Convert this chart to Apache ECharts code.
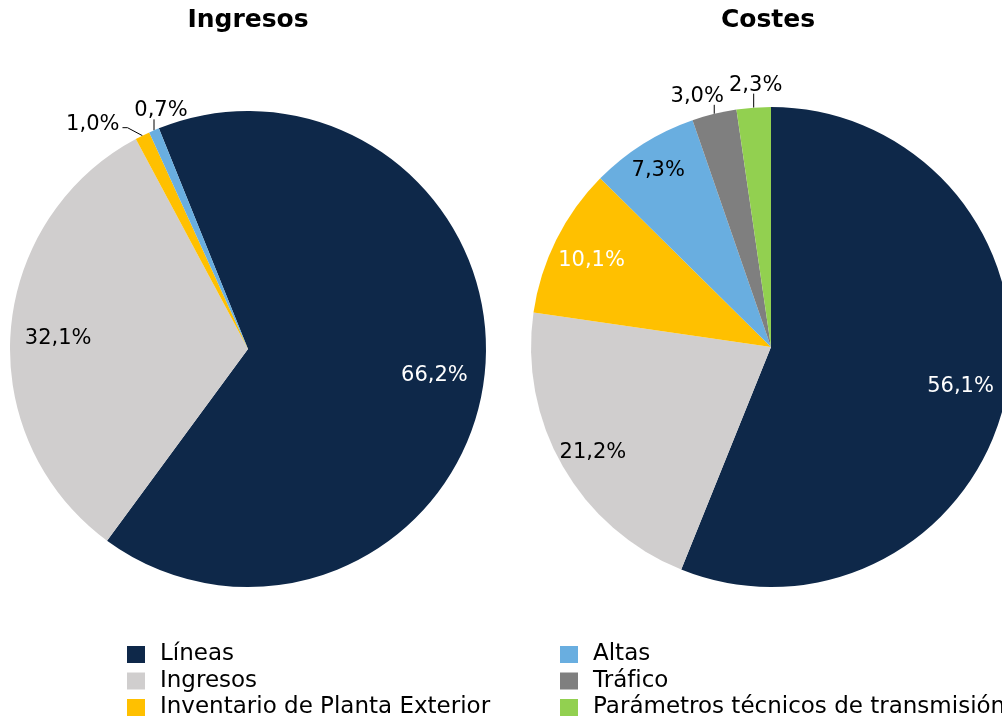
<!DOCTYPE html>
<html lang="es">
<head>
<meta charset="UTF-8">
<title>Ingresos y Costes</title>
<script src="https://cdn.jsdelivr.net/npm/echarts@6/dist/echarts.min.js"></script>
<style>
    * { margin: 0; padding: 0; }
    body { background: #fff; }
</style>
</head>
<body>
<div id="chart" style="width:1002px;height:720px;"></div>
<script>
    // categorias compartidas por los dos graficos
    var categorias = ['Líneas', 'Ingresos', 'Inventario de Planta Exterior', 'Altas', 'Tráfico', 'Parámetros técnicos de transmisión'];
    var colores = ['#0E2849', '#D0CECE', '#FFC000', '#69AEE0', '#7F7F7F', '#92D050'];
    var coloresTexto = ['#fff', '#000', '#fff', '#000', '#000', '#000'];

    var ingresosNombres = ['Líneas', 'Ingresos', 'Inventario de Planta Exterior', 'Altas'];
    var ingresosValores = [66.2, 32.1, 1.0, 0.7];

    var costesNombres = ['Líneas', 'Ingresos', 'Inventario de Planta Exterior', 'Altas', 'Tráfico', 'Parámetros técnicos de transmisión'];
    var costesValores = [56.1, 21.2, 10.1, 7.3, 3.0, 2.3];

    var fuente = 'DejaVu Sans';

    // rotulos que van fuera del sector, con su linea
    var rotulosExternos = {
        ingresos: {
            'Inventario de Planta Exterior': {tipo: 'codo', dx: -15, dy: -8, largo: 5},
            'Altas': {tipo: 'vertical', alto: 11, dx: 7}
        },
        costes: {
            'Tráfico': {tipo: 'vertical', alto: 9, dx: -17},
            'Parámetros técnicos de transmisión': {tipo: 'vertical', alto: 14, dx: 2}
        }
    };
    // distancia del rotulo interior al centro, como fraccion del radio
    var distanciaRotulo = {
        ingresos: {'Líneas': 0.77, 'Ingresos': 0.78},
        costes: {'Líneas': 0.785, 'Ingresos': 0.835, 'Inventario de Planta Exterior': 0.815, 'Altas': 0.86}
    };

    function pct(p) {
        return p.value.toFixed(1).replace('.', ',') + '%';
    }

    function datosSectores(nombres, valores, externos) {
        return nombres.map(function (n, i) {
            var item = {name: n, value: valores[i], itemStyle: {color: colores[categorias.indexOf(n)]}};
            if (externos[n]) {
                item.label = {show: true};
                item.labelLine = {show: true};
            }
            return item;
        });
    }

    function datosRotulos(nombres, valores, externos) {
        return nombres.map(function (n, i) {
            return {
                name: n, value: valores[i],
                itemStyle: {color: 'rgba(0,0,0,0)'},
                label: {show: !externos[n], color: coloresTexto[categorias.indexOf(n)]}
            };
        });
    }

    function hacerLayout(nombres, externos) {
        return function (p) {
            var r = externos[nombres[p.dataIndex]];
            if (!r || !p.labelLinePoints) return;
            var e = p.labelLinePoints[0];
            if (r.tipo === 'codo') {
                var m = [e[0] + r.dx, e[1] + r.dy];
                var f = [m[0] - r.largo, m[1]];
                return {x: f[0] - 3, y: f[1] - 3, align: 'right', verticalAlign: 'middle', labelLinePoints: [e, m, f]};
            }
            var t = [e[0], e[1] - r.alto];
            return {x: e[0] + r.dx, y: t[1] + 2, align: 'center', verticalAlign: 'bottom', labelLinePoints: [e, t, t]};
        };
    }

    // el rotulo 'inside' queda a media distancia; se lleva a la fraccion indicada
    function layoutInterior(nombres, distancias, centro) {
        return function (p) {
            var k = distancias[nombres[p.dataIndex]];
            if (!k) return;
            var lr = p.labelRect;
            var cx = lr.x + lr.width / 2, cy = lr.y + lr.height / 2;
            var s = k / 0.5;
            return {
                x: centro[0] + (cx - centro[0]) * s,
                y: centro[1] + (cy - centro[1]) * s + 3,
                align: 'center', verticalAlign: 'middle'
            };
        };
    }

    function serieSectores(nombres, valores, externos, centro, radio, inicio) {
        return {
            type: 'pie',
            center: centro,
            radius: radio,
            startAngle: inicio,
            clockwise: true,
            avoidLabelOverlap: false,
            silent: true,
            itemStyle: {borderWidth: 0},
            label: {show: false, position: 'outside', formatter: pct, fontSize: 21, fontFamily: fuente, color: '#000'},
            labelLine: {show: false, lineStyle: {color: '#000', width: 1}},
            labelLayout: hacerLayout(nombres, externos),
            data: datosSectores(nombres, valores, externos)
        };
    }

    function serieRotulos(nombres, valores, externos, distancias, centro, radio, inicio) {
        return {
            type: 'pie',
            center: centro,
            radius: radio,
            startAngle: inicio,
            clockwise: true,
            silent: true,
            itemStyle: {borderWidth: 0},
            label: {position: 'inside', formatter: pct, fontSize: 21, fontFamily: fuente},
            labelLine: {show: false},
            labelLayout: layoutInterior(nombres, distancias, centro),
            data: datosRotulos(nombres, valores, externos)
        };
    }

    var chart = echarts.init(document.getElementById('chart'));
    var leyenda = {
        orient: 'vertical', top: 643, padding: 0,
        itemWidth: 18, itemHeight: 17, itemGap: 3.5,
        icon: 'rect', selectedMode: false,
        textStyle: {fontSize: 23, fontFamily: fuente, color: '#000', padding: [0, 0, 0, 10]}
    };
    var tituloTexto = {fontSize: 25, fontWeight: 'bold', fontFamily: fuente, color: '#000'};

    var option = {
        backgroundColor: '#fff',
        animation: false,
        title: [
            {text: 'Ingresos', left: 248, top: 8, textAlign: 'center', padding: 0, textStyle: tituloTexto},
            {text: 'Costes', left: 768, top: 8, textAlign: 'center', padding: 0, textStyle: tituloTexto}
        ],
        legend: [
            Object.assign({}, leyenda, {left: 127, data: categorias.slice(0, 3)}),
            Object.assign({}, leyenda, {left: 560, data: categorias.slice(3)})
        ],
        series: [
            serieSectores(ingresosNombres, ingresosValores, rotulosExternos.ingresos, [248, 349], 238, 112),
            serieSectores(costesNombres, costesValores, rotulosExternos.costes, [771, 347], 240, 90),
            serieRotulos(ingresosNombres, ingresosValores, rotulosExternos.ingresos, distanciaRotulo.ingresos, [248, 349], 238, 112),
            serieRotulos(costesNombres, costesValores, rotulosExternos.costes, distanciaRotulo.costes, [771, 347], 240, 90)
        ]
    };
    chart.setOption(option);
</script>
</body>
</html>
